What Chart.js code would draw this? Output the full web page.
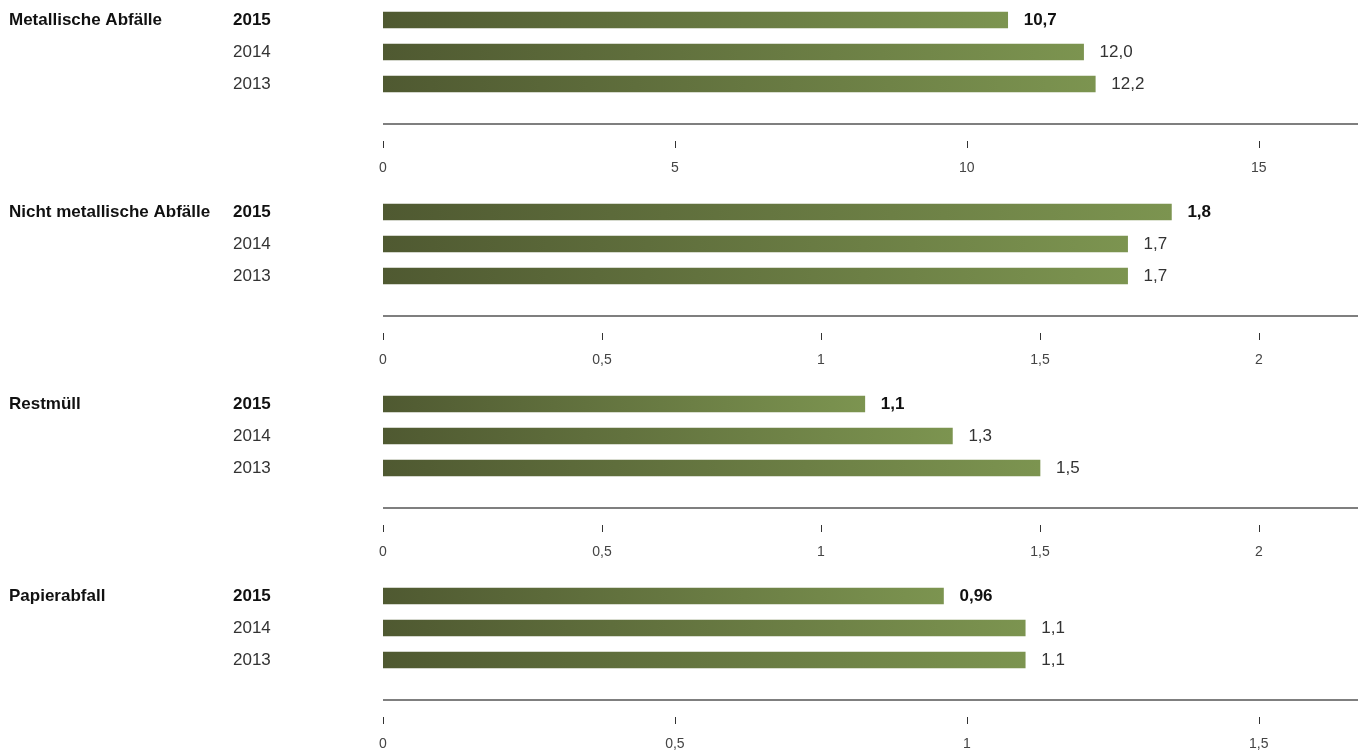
<!DOCTYPE html>
<html>

<head>
    <meta charset="utf-8">
    <title>Abfälle</title>
    <script src="https://cdn.jsdelivr.net/npm/chart.js@4.4.2/dist/chart.umd.min.js"></script>
    <style>
        html, body {
            margin: 0;
            height: 100%;
            overflow: hidden;
            background: #fff;
        }
        .panel {
            width: 1358px;
            height: 192px;
            position: relative;
        }
    </style>
</head>

<body>
    <div class="panel"><canvas id="c0"></canvas></div>
    <div class="panel"><canvas id="c1"></canvas></div>
    <div class="panel"><canvas id="c2"></canvas></div>
    <div class="panel"><canvas id="c3"></canvas></div>
    <script>
        // data
        const categories = ['Metallische Abfälle', 'Nicht metallische Abfälle', 'Restmüll', 'Papierabfall'];
        const years = ['2015', '2014', '2013'];

        const metallisch = [10.7, 12.0, 12.2];
        const nichtMetallisch = [1.8, 1.7, 1.7];
        const restmuell = [1.1, 1.3, 1.5];
        const papier = [0.96, 1.1, 1.1];

        const metallischLabels = ['10,7', '12,0', '12,2'];
        const nichtMetallischLabels = ['1,8', '1,7', '1,7'];
        const restmuellLabels = ['1,1', '1,3', '1,5'];
        const papierLabels = ['0,96', '1,1', '1,1'];

        const axisSteps = [5, 0.5, 0.5, 0.5];
        const axisMax = [16.7, 2.226, 2.226, 1.67];

        const seriesValues = [metallisch, nichtMetallisch, restmuell, papier];
        const seriesLabels = [metallischLabels, nichtMetallischLabels, restmuellLabels, papierLabels];

        const FONT = '"Liberation Sans", Arial, sans-serif';

        // axis line, tick marks, value labels and category title
        const panelDecor = {
            id: 'panelDecor',
            afterDatasetsDraw(chart, args, opts) {
                const c = chart.ctx;
                const area = chart.chartArea;
                const xs = chart.scales.x;
                c.save();

                // axis line below the bars
                const lineY = area.bottom + 24;
                c.strokeStyle = '#555';
                c.lineWidth = 1.3;
                c.beginPath();
                c.moveTo(area.left, lineY);
                c.lineTo(area.right, lineY);
                c.stroke();

                // small tick marks
                c.strokeStyle = '#333';
                c.lineWidth = 1;
                xs.ticks.forEach(t => {
                    const px = Math.round(xs.getPixelForValue(t.value)) + 0.5;
                    c.beginPath();
                    c.moveTo(px, area.bottom + 41);
                    c.lineTo(px, area.bottom + 48);
                    c.stroke();
                });

                // value labels after each bar
                const meta = chart.getDatasetMeta(0);
                c.textBaseline = 'middle';
                c.textAlign = 'left';
                meta.data.forEach((bar, i) => {
                    c.font = (i === 0 ? 'bold ' : '') + '17px ' + FONT;
                    c.fillStyle = i === 0 ? '#111' : '#333';
                    c.fillText(opts.labels[i], bar.x + 16, bar.y);
                });

                // category title
                c.font = 'bold 17px ' + FONT;
                c.fillStyle = '#111';
                c.fillText(opts.title, 9, meta.data[0].y);
                c.restore();
            }
        };

        function barGradient(context) {
            const chart = context.chart;
            if (!chart.chartArea || context.raw === undefined) {
                return '#667a40';
            }
            const xs = chart.scales.x;
            const x0 = xs.getPixelForValue(0);
            const x1 = xs.getPixelForValue(context.raw);
            const g = chart.ctx.createLinearGradient(x0, 0, x1, 0);
            g.addColorStop(0, '#4f5931');
            g.addColorStop(1, '#7c9450');
            return g;
        }

        categories.forEach((cat, k) => {
            new Chart(document.getElementById('c' + k), {
                type: 'bar',
                data: {
                    labels: years,
                    datasets: [{
                        data: seriesValues[k],
                        backgroundColor: barGradient,
                        barThickness: 16,
                        borderWidth: 0
                    }]
                },
                plugins: [panelDecor],
                options: {
                    indexAxis: 'y',
                    maintainAspectRatio: false,
                    responsive: true,
                    animation: false,
                    layout: { padding: { top: 4, left: 233, right: 0, bottom: 0 } },
                    scales: {
                        x: {
                            min: 0,
                            max: axisMax[k],
                            grid: { display: false },
                            border: { display: false },
                            afterFit: s => { s.height = 92; },
                            ticks: {
                                stepSize: axisSteps[k],
                                includeBounds: false,
                                padding: 52,
                                color: '#444',
                                font: { family: FONT, size: 14 },
                                maxRotation: 0,
                                autoSkip: false,
                                callback: v => String(v).replace('.', ',')
                            }
                        },
                        y: {
                            grid: { display: false },
                            border: { display: false },
                            afterFit: s => {
                                s.width = 150;
                                s.paddingTop = 0;
                                s.paddingBottom = 0;
                            },
                            ticks: {
                                padding: 0,
                                crossAlign: 'far',
                                color: ctx => ctx.index === 0 ? '#111' : '#333',
                                font: ctx => ({
                                    family: FONT,
                                    size: 17,
                                    weight: ctx.index === 0 ? 'bold' : 'normal'
                                })
                            }
                        }
                    },
                    plugins: {
                        legend: { display: false },
                        tooltip: { enabled: false },
                        panelDecor: { labels: seriesLabels[k], title: cat }
                    }
                }
            });
        });
    </script>
</body>

</html>
